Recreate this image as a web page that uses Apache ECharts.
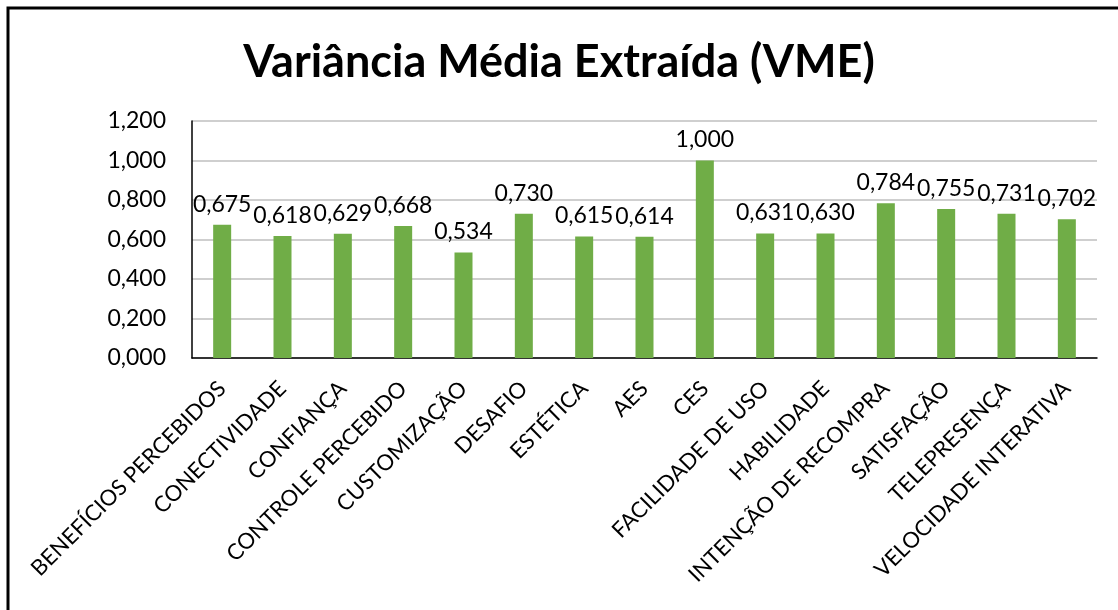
<!DOCTYPE html>
<html style="height: 100%">
<head>
    <meta charset="utf-8">
</head>
<body style="height: 100%; margin: 0; background: #fff">
<div id="container" style="width: 1118px; height: 610px"></div>
<script src="https://cdn.jsdelivr.net/npm/echarts@6/dist/echarts.min.js"></script>
<script type="text/javascript">
    // dados do gráfico
    var categorias = ['BENEFÍCIOS PERCEBIDOS', 'CONECTIVIDADE', 'CONFIANÇA', 'CONTROLE PERCEBIDO',
        'CUSTOMIZAÇÃO', 'DESAFIO', 'ESTÉTICA', 'AES', 'CES', 'FACILIDADE DE USO', 'HABILIDADE',
        'INTENÇÃO DE RECOMPRA', 'SATISFAÇÃO', 'TELEPRESENÇA', 'VELOCIDADE INTERATIVA'];
    var vme = [0.675, 0.618, 0.629, 0.668, 0.534, 0.730, 0.615, 0.614, 1.000, 0.631, 0.630,
        0.784, 0.755, 0.731, 0.702];
    var titulo = 'Variância Média Extraída (VME)';

    function fmt(v) {
        return Number(v).toFixed(3).replace('.', ',');
    }

    var dom = document.getElementById("container");
    var myChart = echarts.init(dom);
    var fonte = 'Lato, "Open Sans", sans-serif';

    var option = {
        backgroundColor: '#fff',
        animation: false,
        textStyle: {fontFamily: fonte, color: '#000'},
        title: {
            text: titulo,
            left: 'center',
            top: 35,
            textStyle: {fontFamily: fonte, fontSize: 45, fontWeight: 'bold', color: '#000'}
        },
        graphic: [{
            type: 'rect',
            shape: {x: 8, y: 8, width: 1300, height: 800},
            style: {fill: 'none', stroke: '#000', lineWidth: 3},
            silent: true
        }],
        grid: {left: 192, right: 21, top: 121, bottom: 252},
        xAxis: {
            type: 'category',
            data: categorias,
            axisTick: {show: false},
            axisLine: {lineStyle: {color: '#000', width: 1.5}},
            axisLabel: {rotate: 45, interval: 0, fontSize: 22, color: '#000', margin: 27, fontFamily: fonte}
        },
        yAxis: {
            type: 'value',
            min: 0,
            max: 1.2,
            interval: 0.2,
            axisLine: {show: true, lineStyle: {color: '#000', width: 1.5}},
            axisTick: {show: false},
            splitLine: {lineStyle: {color: '#bfbfbf', width: 1.5}},
            axisLabel: {fontSize: 23, color: '#000', margin: 26, formatter: fmt, fontFamily: fonte}
        },
        series: [{
            name: 'VME',
            type: 'bar',
            data: vme,
            barWidth: 18,
            itemStyle: {color: '#70ad47'},
            label: {
                show: true,
                position: 'top',
                distance: 9,
                fontSize: 23,
                color: '#000',
                fontFamily: fonte,
                formatter: function (p) { return fmt(p.value); }
            }
        }]
    };
    myChart.setOption(option);
</script>
</body>
</html>
